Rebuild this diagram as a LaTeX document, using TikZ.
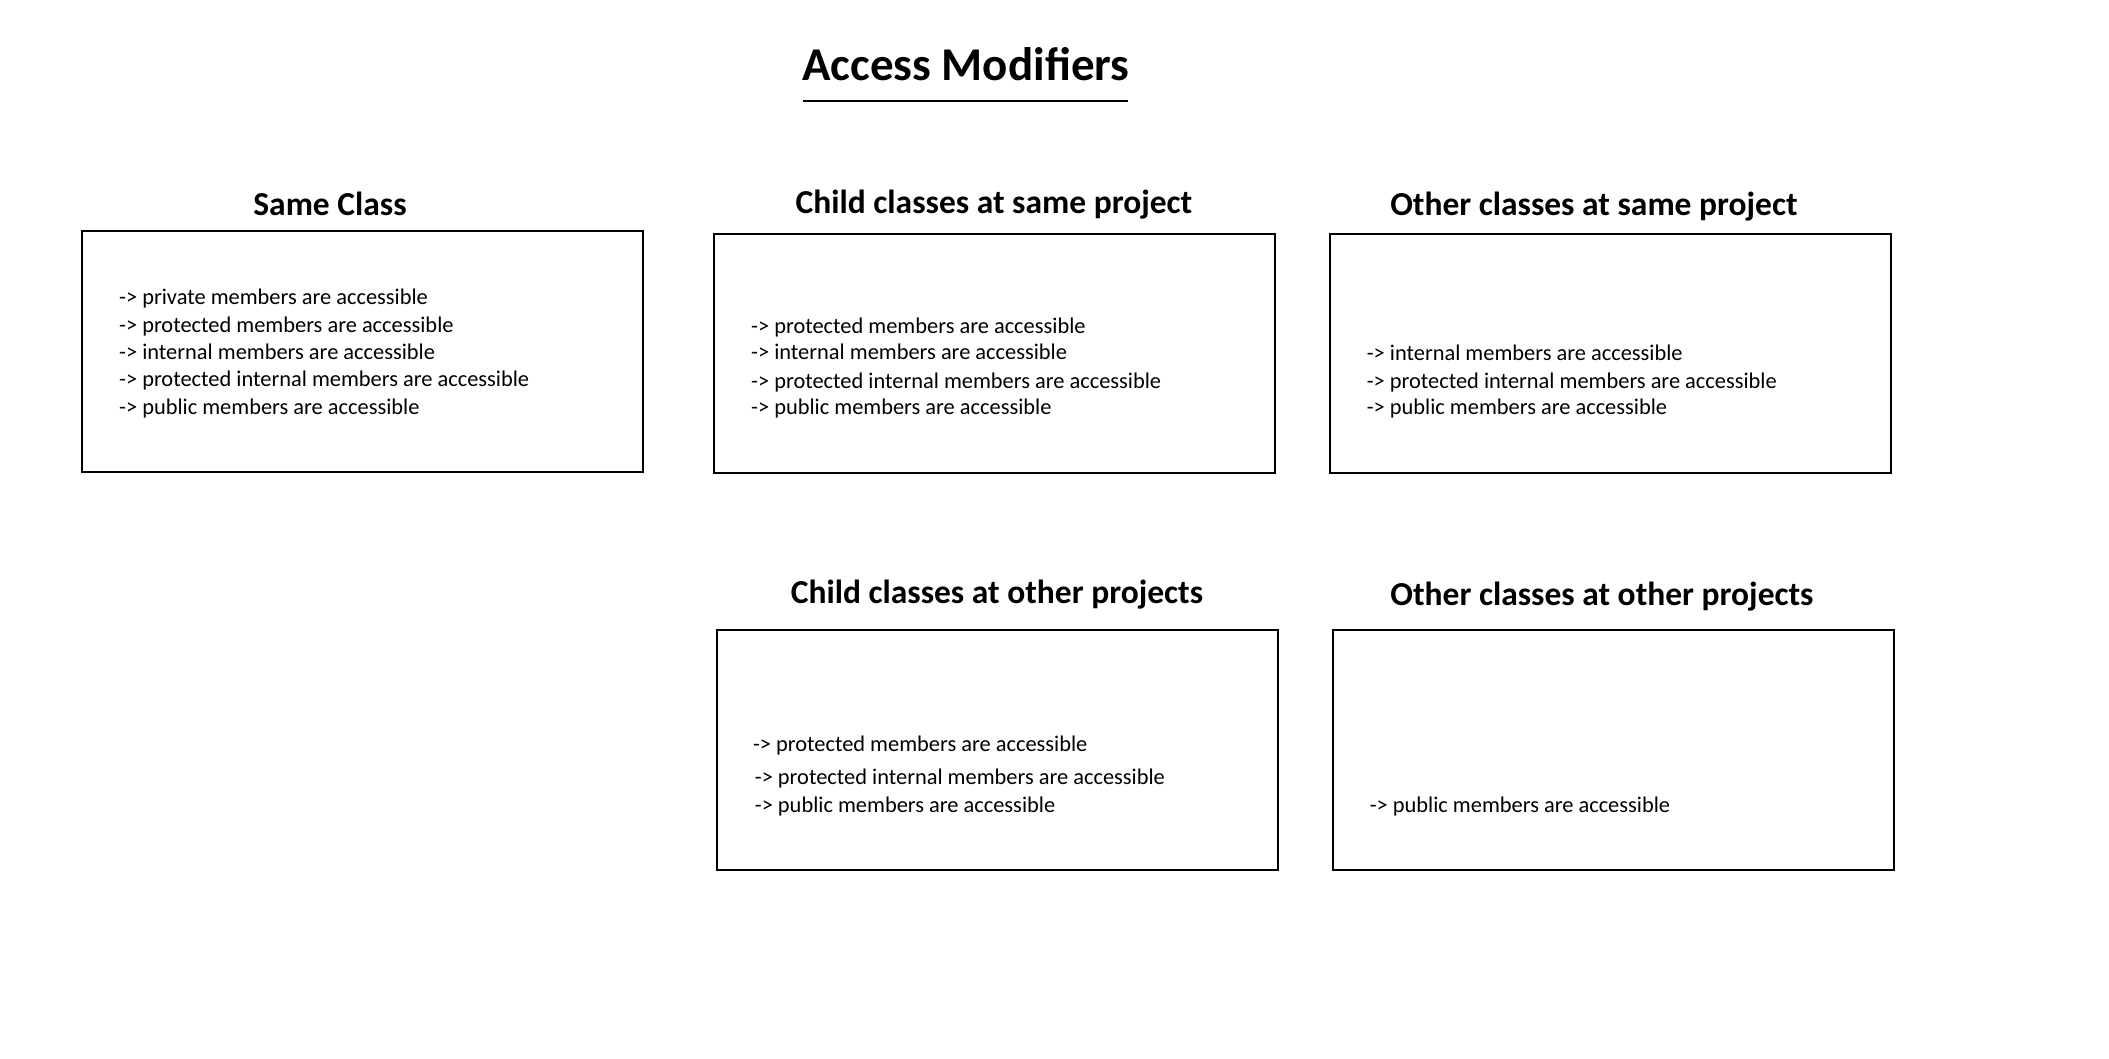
\documentclass[tikz,border=0pt]{standalone}
\usepackage{fontspec}
\setmainfont{Carlito}
\begin{document}
\begin{tikzpicture}[x=1pt,y=-1pt,
  box/.style={draw=black,line width=2pt},
  maintitle/.style={font=\fontsize{47}{56}\selectfont\bfseries,anchor=base,inner sep=0pt},
  boxtitle/.style={font=\fontsize{33.5}{40}\selectfont\bfseries,anchor=base,inner sep=0pt},
  item/.style={font=\fontsize{22.4}{27}\selectfont,anchor=base west,inner sep=0pt}]
\useasboundingbox[fill=white] (0,0) rectangle (2109,1059);
% title
\node[maintitle] (title) at (966,81) {Access Modifiers};
\coordinate (ul1) at (803,101);
\coordinate (ul2) at (1128,101);
\draw[line width=1.8pt] (ul1) -- (ul2);
% boxes
\draw[box] (82,231) rectangle (643,472);
\draw[box] (714,234) rectangle (1275,473);
\draw[box] (1330,234) rectangle (1891,473);
\draw[box] (717,630) rectangle (1278,870);
\draw[box] (1333,630) rectangle (1894,870);
% box titles
\node[boxtitle] (t1) at (330,216) {Same Class};
\node[boxtitle] (t2) at (994,213.5) {Child classes at same project};
\node[boxtitle] (t3) at (1594,216) {Other classes at same project};
\node[boxtitle] (t4) at (997,603.5) {Child classes at other projects};
\node[boxtitle] (t5) at (1602,605) {Other classes at other projects};
% box 1
\node[item] (a1) at (119,304.5) {-> private members are accessible};
\node[item] (a2) at (119,332) {-> protected members are accessible};
\node[item] (a3) at (119,359.7) {-> internal members are accessible};
\node[item] (a4) at (119,386.3) {-> protected internal members are accessible};
\node[item] (a5) at (119,414) {-> public members are accessible};
% box 2
\node[item] (b1) at (751,333) {-> protected members are accessible};
\node[item] (b2) at (751,359.7) {-> internal members are accessible};
\node[item] (b3) at (751,388.2) {-> protected internal members are accessible};
\node[item] (b4) at (751,414.8) {-> public members are accessible};
% box 3
\node[item] (c1) at (1366.6,360.6) {-> internal members are accessible};
\node[item] (c2) at (1366.6,388.2) {-> protected internal members are accessible};
\node[item] (c3) at (1366.6,414.8) {-> public members are accessible};
% box 4
\node[item] (d1) at (752.8,751) {-> protected members are accessible};
\node[item] (d2) at (754.7,784.5) {-> protected internal members are accessible};
\node[item] (d3) at (754.7,812) {-> public members are accessible};
% box 5
\node[item] (e1) at (1369.6,812) {-> public members are accessible};
\end{tikzpicture}
\end{document}
